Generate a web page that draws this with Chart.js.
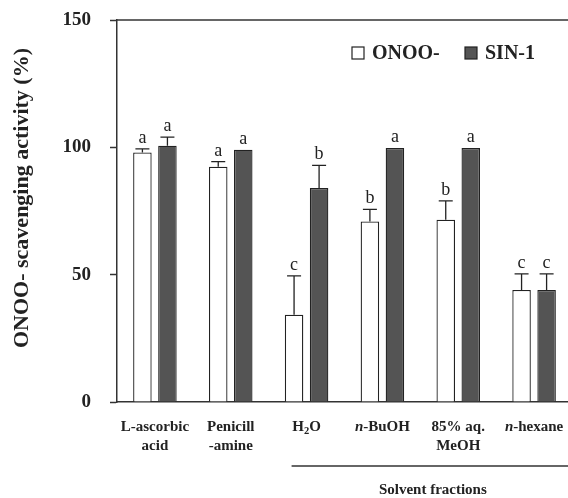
<!DOCTYPE html>
<html>
<head>
<meta charset="utf-8">
<script src="https://cdn.jsdelivr.net/npm/chart.js@4"></script>
<style>
  body { margin: 0; background: #fff; overflow: hidden; }
  #wrap { width: 568px; height: 498px; overflow: hidden; }
</style>
</head>
<body>
<div id="wrap"><canvas id="chart" width="590" height="498"></canvas></div>
<script>
// categories (each entry = label lines)
const categories = [["L-ascorbic", "acid"], ["Penicill", "-amine"], ["H2O"], ["n-BuOH"], ["85% aq.", "MeOH"], ["n-hexane"]];
const seriesNames = ["ONOO-", "SIN-1"];
const onooValues = [98.0, 92.4, 34.3, 70.9, 71.6, 44.0];
const onooErrors = [1.4, 2.0, 15.2, 4.7, 7.4, 6.3];
const onooLetters = ["a", "a", "c", "b", "b", "c"];
const sinValues = [100.6, 99.1, 84.0, 99.7, 99.7, 44.0];
const sinErrors = [3.4, 0, 8.9, 0, 0, 6.3];
const sinLetters = ["a", "a", "b", "a", "a", "c"];
const yTicks = [0, 50, 100, 150];
const yTitle = "ONOO- scavenging activity (%)";

const serif = '"Liberation Serif", "DejaVu Serif", serif';
const ink = "#222";
const darkFill = "#545454";

const errors = [onooErrors, sinErrors];
const letters = [onooLetters, sinLetters];

// draws one label line, handling the subscript in H2O and the italic n-
function drawRich(ctx, text, cx, cy, size) {
    let parts = [];
    if (text === "H2O") {
        parts = [["H", "bold", 0, size], ["2", "bold", 4, size * 0.7], ["O", "bold", 0, size]];
    } else if (text.startsWith("n-")) {
        parts = [["n", "italic bold", 0, size], [text.slice(1), "bold", 0, size]];
    } else {
        parts = [[text, "bold", 0, size]];
    }
    let total = 0;
    parts.forEach(p => {
        ctx.font = p[1] + " " + p[3] + "px " + serif;
        p.push(ctx.measureText(p[0]).width);
        total += p[4];
    });
    let x = cx - total / 2;
    ctx.textAlign = "left";
    ctx.textBaseline = "middle";
    parts.forEach(p => {
        ctx.font = p[1] + " " + p[3] + "px " + serif;
        ctx.fillText(p[0], x, cy + p[2]);
        x += p[4];
    });
}

const extras = {
    id: "extras",
    afterDatasetsDraw(chart) {
        const ctx = chart.ctx;
        const area = chart.chartArea;
        const y = chart.scales.y;
        const x = chart.scales.x;
        ctx.save();

        // top frame line
        ctx.strokeStyle = "#333";
        ctx.lineWidth = 1.5;
        ctx.beginPath();
        ctx.moveTo(area.left, area.top);
        ctx.lineTo(area.right, area.top);
        ctx.stroke();

        // y title (sits a little above the axis centre in the original)
        ctx.save();
        ctx.translate(22, (area.top + area.bottom) / 2 - 13);
        ctx.rotate(-Math.PI / 2);
        ctx.fillStyle = ink;
        ctx.font = "bold 22px " + serif;
        ctx.textAlign = "center";
        ctx.textBaseline = "middle";
        ctx.fillText(yTitle, 0, 0);
        ctx.restore();

        // error bars and letters
        chart.data.datasets.forEach((ds, i) => {
            const meta = chart.getDatasetMeta(i);
            meta.data.forEach((bar, j) => {
                const err = errors[i][j];
                const top = y.getPixelForValue(ds.data[j] + err);
                if (err > 0) {
                    ctx.strokeStyle = ink;
                    ctx.lineWidth = 1.3;
                    ctx.beginPath();
                    ctx.moveTo(bar.x, bar.y);
                    ctx.lineTo(bar.x, top);
                    ctx.moveTo(bar.x - 7, top);
                    ctx.lineTo(bar.x + 7, top);
                    ctx.stroke();
                }
                ctx.fillStyle = ink;
                ctx.font = "18px " + serif;
                ctx.textAlign = "center";
                ctx.textBaseline = "alphabetic";
                ctx.fillText(letters[i][j], bar.x, top - 6);
            });
        });

        // category labels
        ctx.fillStyle = ink;
        categories.forEach((lines, j) => {
            const cx = x.getPixelForValue(j);
            lines.forEach((t, k) => drawRich(ctx, t, cx, area.bottom + 25 + k * 19, 15));
        });

        // solvent fractions bracket
        const x0 = x.getPixelForValue(2) - 15;
        const x1 = x.getPixelForValue(5) + 40;
        ctx.strokeStyle = "#333";
        ctx.lineWidth = 1.5;
        ctx.beginPath();
        ctx.moveTo(x0, area.bottom + 64);
        ctx.lineTo(x1, area.bottom + 64);
        ctx.stroke();
        ctx.font = "bold 15px " + serif;
        ctx.textAlign = "center";
        ctx.textBaseline = "middle";
        ctx.fillText("Solvent fractions", (x0 + x1) / 2, area.bottom + 88);

        // legend
        const lx = area.left + 235;
        const ly = area.top + 33;
        const fills = ["#fff", darkFill];
        const offs = [0, 113];
        seriesNames.forEach((name, i) => {
            ctx.fillStyle = fills[i];
            ctx.strokeStyle = ink;
            ctx.lineWidth = 1.2;
            ctx.fillRect(lx + offs[i], ly - 6, 12, 12);
            ctx.strokeRect(lx + offs[i], ly - 6, 12, 12);
            ctx.fillStyle = ink;
            ctx.font = "bold 20px " + serif;
            ctx.textAlign = "left";
            ctx.textBaseline = "middle";
            ctx.fillText(name, lx + offs[i] + 20, ly + 1);
        });

        ctx.restore();
    }
};

new Chart(document.getElementById("chart"), {
    type: "bar",
    data: {
        labels: categories.map(c => c.join(" ")),
        datasets: [{
            label: seriesNames[0],
            data: onooValues,
            backgroundColor: "#fff",
            borderColor: ink,
            borderWidth: 1.3
        }, {
            label: seriesNames[1],
            data: sinValues,
            backgroundColor: darkFill,
            borderColor: ink,
            borderWidth: 1.3
        }]
    },
    options: {
        responsive: false,
        animation: false,
        layout: { padding: { top: 20, right: 18, left: 0, bottom: 0 } },
        datasets: { bar: { categoryPercentage: 0.66, barPercentage: 0.74 } },
        plugins: {
            legend: { display: false },
            tooltip: { enabled: false }
        },
        scales: {
            x: {
                ticks: { display: false },
                grid: { display: false },
                border: { color: "#333", width: 1.5 },
                afterFit(scale) { scale.height = 96; }
            },
            y: {
                min: 0,
                max: 150,
                afterBuildTicks(scale) { scale.ticks = yTicks.map(v => ({ value: v })); },
                ticks: {
                    color: ink,
                    padding: 19,
                    font: { family: serif, size: 19, weight: "bold" }
                },
                grid: { drawOnChartArea: false, tickLength: 7, tickColor: "#333", tickWidth: 1.5 },
                border: { color: "#333", width: 1.5 },
                afterFit(scale) {
                    scale.width = 117;
                    // tick padding otherwise pushes the plot top down
                    scale.paddingTop = 0;
                    scale.paddingBottom = 0;
                }
            }
        }
    },
    plugins: [extras]
});
</script>
</body>
</html>
